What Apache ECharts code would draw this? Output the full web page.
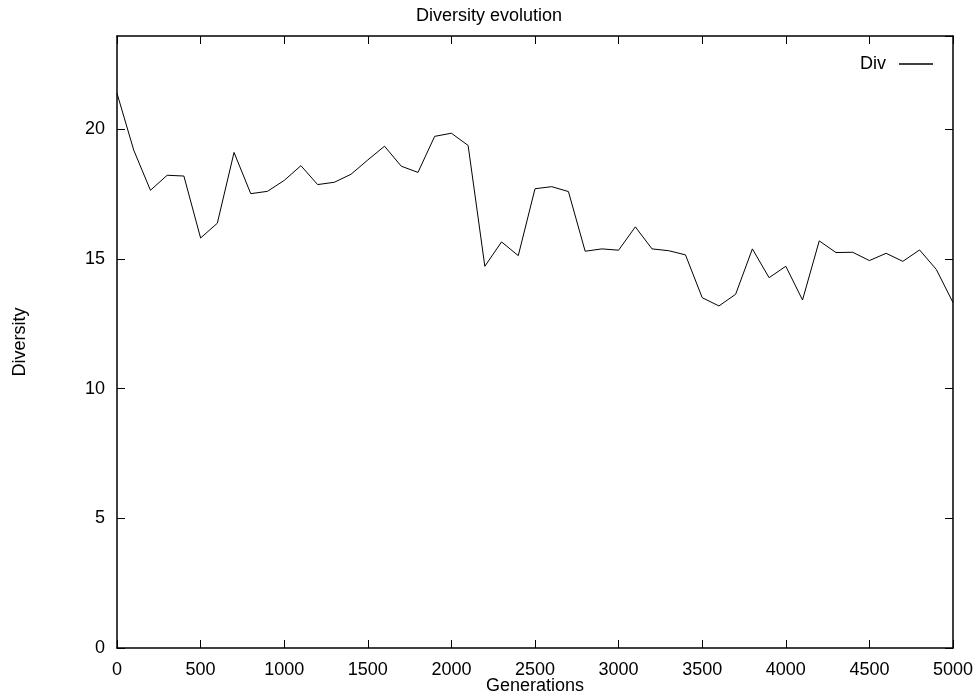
<!DOCTYPE html>
<html>
<head>
<meta charset="utf-8">
<style>
  html, body { margin: 0; padding: 0; background: #fff; }
  #chart { width: 978px; height: 697px; }
</style>
<script src="https://cdn.jsdelivr.net/npm/echarts@6/dist/echarts.min.js"></script>
</head>
<body>
<div id="chart"></div>
<script>
// Generation numbers (x) and measured population diversity (y)
const generations = [
  0, 100, 200, 300, 400, 500, 600, 700, 800, 900,
  1000, 1100, 1200, 1300, 1400, 1500, 1600, 1700, 1800, 1900,
  2000, 2100, 2200, 2300, 2400, 2500, 2600, 2700, 2800, 2900,
  3000, 3100, 3200, 3300, 3400, 3500, 3600, 3700, 3800, 3900,
  4000, 4100, 4200, 4300, 4400, 4500, 4600, 4700, 4800, 4900,
  5000
];
const diversity = [
  21.39, 19.20, 17.65, 18.23, 18.20, 15.81, 16.38, 19.11, 17.52, 17.61,
  18.03, 18.60, 17.87, 17.96, 18.27, 18.82, 19.35, 18.58, 18.34, 19.73,
  19.85, 19.38, 14.72, 15.66, 15.13, 17.71, 17.79, 17.60, 15.30, 15.39,
  15.34, 16.24, 15.39, 15.32, 15.16, 13.51, 13.19, 13.64, 15.39, 14.28,
  14.72, 13.42, 15.70, 15.25, 15.26, 14.94, 15.22, 14.91, 15.35, 14.60,
  13.32
];
const xTicks = { min: 0, max: 5000, step: 500 };
const yTicks = { min: 0, max: 23.6, step: 5 };

const FONT = '"Liberation Sans", Arial, Helvetica, sans-serif';
const FS = 18;

const points = generations.map((g, i) => [g, diversity[i]]);

// Closed frame: every side drawn as an axis line with ticks pointing inward
const frameLine = { show: true, onZero: false, lineStyle: { color: '#000', width: 1.5 } };
const innerTick = { show: true, inside: true, length: 8, lineStyle: { color: '#000', width: 1 } };

const chart = echarts.init(document.getElementById('chart'), null, { renderer: 'canvas' });
chart.setOption({
  animation: false,
  backgroundColor: '#fff',
  title: {
    text: 'Diversity evolution',
    left: 'center',
    top: 2,
    textStyle: { fontFamily: FONT, fontSize: FS, fontWeight: 'normal', color: '#000' }
  },
  legend: {
    data: ['Div'],
    right: 45,
    top: 55,
    padding: 0,
    align: 'right',
    icon: 'rect',
    itemWidth: 34,
    itemHeight: 1.5,
    itemStyle: { color: '#000' },
    textStyle: { fontFamily: FONT, fontSize: FS, color: '#000', padding: [0, 8, 0, 0] }
  },
  grid: {
    left: 117, right: 25, top: 36, bottom: 49,
    containLabel: false,
    outerBoundsMode: 'none'
  },
  xAxis: [
    {
      type: 'value',
      position: 'bottom',
      min: xTicks.min, max: xTicks.max, interval: xTicks.step,
      name: 'Generations',
      nameLocation: 'middle',
      nameGap: 29,
      nameMoveOverlap: false,
      nameTextStyle: { fontFamily: FONT, fontSize: FS, color: '#000' },
      axisLine: frameLine,
      axisTick: innerTick,
      axisLabel: { fontFamily: FONT, fontSize: FS, color: '#000', margin: 13, formatter: v => String(v) },
      splitLine: { show: false }
    },
    {
      type: 'value',
      position: 'top',
      min: xTicks.min, max: xTicks.max, interval: xTicks.step,
      axisLine: frameLine,
      axisTick: innerTick,
      axisLabel: { show: false },
      splitLine: { show: false }
    }
  ],
  yAxis: [
    {
      type: 'value',
      position: 'left',
      min: yTicks.min, max: yTicks.max, interval: yTicks.step,
      name: 'Diversity',
      nameLocation: 'middle',
      nameGap: 88,
      nameRotate: 90,
      nameMoveOverlap: false,
      nameTextStyle: { fontFamily: FONT, fontSize: FS, color: '#000' },
      axisLine: frameLine,
      axisTick: innerTick,
      axisLabel: {
        fontFamily: FONT, fontSize: FS, color: '#000', margin: 12,
        showMaxLabel: false,
        formatter: v => (v % yTicks.step === 0 ? String(v) : '')
      },
      splitLine: { show: false }
    },
    {
      type: 'value',
      position: 'right',
      min: yTicks.min, max: yTicks.max, interval: yTicks.step,
      axisLine: frameLine,
      axisTick: innerTick,
      axisLabel: { show: false },
      splitLine: { show: false }
    }
  ],
  series: [
    {
      name: 'Div',
      type: 'line',
      xAxisIndex: 0,
      yAxisIndex: 0,
      data: points,
      symbol: 'none',
      lineStyle: { color: '#000', width: 1 },
      itemStyle: { color: '#000' }
    }
  ]
});
</script>
</body>
</html>
